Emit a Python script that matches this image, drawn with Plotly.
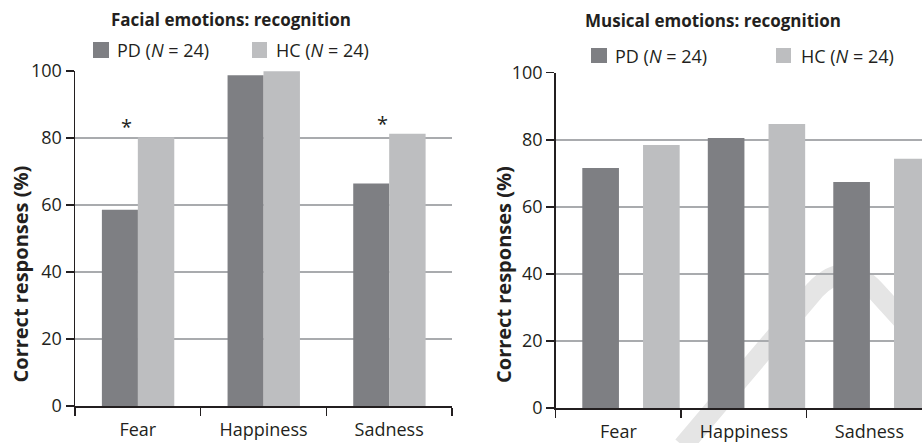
import plotly.graph_objects as go

W, H = 922, 443

# ---- data ----
categories = ["Fear", "Happiness", "Sadness"]
facial_pd = [58.6, 98.7, 66.4]
facial_hc = [80.2, 99.9, 81.3]
musical_pd = [71.6, 80.5, 67.4]
musical_hc = [78.4, 84.7, 74.3]
y_ticks = [0, 20, 40, 60, 80, 100]
series_names = ["PD (<i>N</i> = 24)", "HC (<i>N</i> = 24)"]
significant_facial = ["Fear", "Sadness"]
titles = ["Facial emotions: recognition", "Musical emotions: recognition"]
y_title = "Correct responses (%)"

PD_COLOR = "#7e7f83"
HC_COLOR = "#bdbec0"
TXT = "#231f20"
GRID = "#a9abae"
FONT = "Open Sans"


def fx(px):
    return px / W


def fy(py):
    return 1 - py / H


fig = go.Figure()

# left chart bars
fig.add_trace(go.Bar(x=categories, y=facial_pd, offset=-0.286, width=0.287,
                     marker=dict(color=PD_COLOR, line=dict(width=0)),
                     name=series_names[0], xaxis="x", yaxis="y", showlegend=False))
fig.add_trace(go.Bar(x=categories, y=facial_hc, offset=0.0, width=0.29,
                     marker=dict(color=HC_COLOR, line=dict(width=0)),
                     name=series_names[1], xaxis="x", yaxis="y", showlegend=False))
# right chart bars
fig.add_trace(go.Bar(x=categories, y=musical_pd, offset=-0.288, width=0.292,
                     marker=dict(color=PD_COLOR, line=dict(width=0)),
                     name=series_names[0], xaxis="x2", yaxis="y2", showlegend=False))
fig.add_trace(go.Bar(x=categories, y=musical_hc, offset=0.196, width=0.292,
                     marker=dict(color=HC_COLOR, line=dict(width=0)),
                     name=series_names[1], xaxis="x2", yaxis="y2", showlegend=False))

xcommon = dict(type="category", showline=True, linecolor=TXT, linewidth=1.5,
               ticks="outside", tickson="boundaries", ticklen=8, tickwidth=1.5,
               tickcolor=TXT, showgrid=False, zeroline=False, automargin=False,
               ticklabelstandoff=7,
               tickfont=dict(family=FONT, size=18, color=TXT), fixedrange=True)
ycommon = dict(range=[0, 100], tickvals=y_ticks, showgrid=True, gridcolor=GRID,
               gridwidth=1.5, showline=True, linecolor=TXT, linewidth=1.5,
               ticks="outside", ticklen=8, tickwidth=1.5, tickcolor=TXT,
               zeroline=False, automargin=False,
               tickfont=dict(family=FONT, size=18, color=TXT), fixedrange=True)

fig.update_layout(
    width=W, height=H,
    margin=dict(l=0, r=0, t=0, b=0, pad=0),
    paper_bgcolor="white", plot_bgcolor="white",
    font=dict(family=FONT, color=TXT),
    barmode="overlay",
    hovermode=False,
    xaxis=dict(xcommon, domain=[fx(75), fx(452)], range=[-0.5, 2.5], anchor="y"),
    yaxis=dict(ycommon, domain=[fy(406), fy(71)], anchor="x"),
    xaxis2=dict(xcommon, domain=[fx(555.7), 1.0], range=[-0.5, 2.419], anchor="y2"),
    yaxis2=dict(ycommon, domain=[fy(408), fy(72.7)], anchor="x2"),
)

ann = []
shapes = []

# titles
for t, cx, cy in [(titles[0], 231, 20), (titles[1], 713, 21)]:
    ann.append(dict(text="<b>%s</b>" % t, x=fx(cx), y=fy(cy), xref="paper", yref="paper",
                    xanchor="center", yanchor="middle", showarrow=False,
                    font=dict(family=FONT, size=17, color=TXT)))

# y axis titles
for cx in (19.5, 503):
    ann.append(dict(text="<b>%s</b>" % y_title, x=fx(cx), y=fy(274), xref="paper", yref="paper",
                    xanchor="center", yanchor="middle", textangle=-90, showarrow=False,
                    font=dict(family=FONT, size=20, color=TXT)))

# legends (manual)
legend_items = [
    (93, 109, 42, 58, 115, PD_COLOR, series_names[0]),
    (252, 267, 42, 58, 274, HC_COLOR, series_names[1]),
    (591, 607, 48, 63, 613, PD_COLOR, series_names[0]),
    (776, 791, 48, 63, 799, HC_COLOR, series_names[1]),
]
for x0, x1, y0, y1, tx, col, name in legend_items:
    shapes.append(dict(type="rect", xref="paper", yref="paper",
                       x0=fx(x0), x1=fx(x1), y0=fy(y1), y1=fy(y0),
                       fillcolor=col, line=dict(width=0)))
    ann.append(dict(text=name, x=fx(tx), y=fy((y0 + y1) / 2), xref="paper", yref="paper",
                    xanchor="left", yanchor="middle", showarrow=False,
                    font=dict(family=FONT, size=18, color=TXT)))

# significance asterisks
shifts = {"Fear": -11, "Sadness": -7}
for c in significant_facial:
    i = categories.index(c)
    ann.append(dict(text="*", x=c, y=facial_hc[i], xref="x", yref="y",
                    xanchor="center", yanchor="bottom", xshift=shifts[c], yshift=-5,
                    showarrow=False, font=dict(family=FONT, size=20, color=TXT)))


# watermark (light grey strokes behind the right chart)
def P(px, py):
    return "%.5f,%.5f" % (fx(px), fy(py))


wm = "M %s L %s Q %s %s L %s" % (P(683, 446), P(815, 290), P(845, 258), P(875, 290), P(925, 345))
shapes.append(dict(type="path", xref="paper", yref="paper", path=wm,
                   line=dict(color="#e5e5e5", width=20), layer="below"))

fig.update_layout(annotations=ann, shapes=shapes)

fig.write_html("out.html",
               config={"displayModeBar": False, "staticPlot": True},
               post_script="document.body.style.margin='0';document.body.style.overflow='hidden';")
